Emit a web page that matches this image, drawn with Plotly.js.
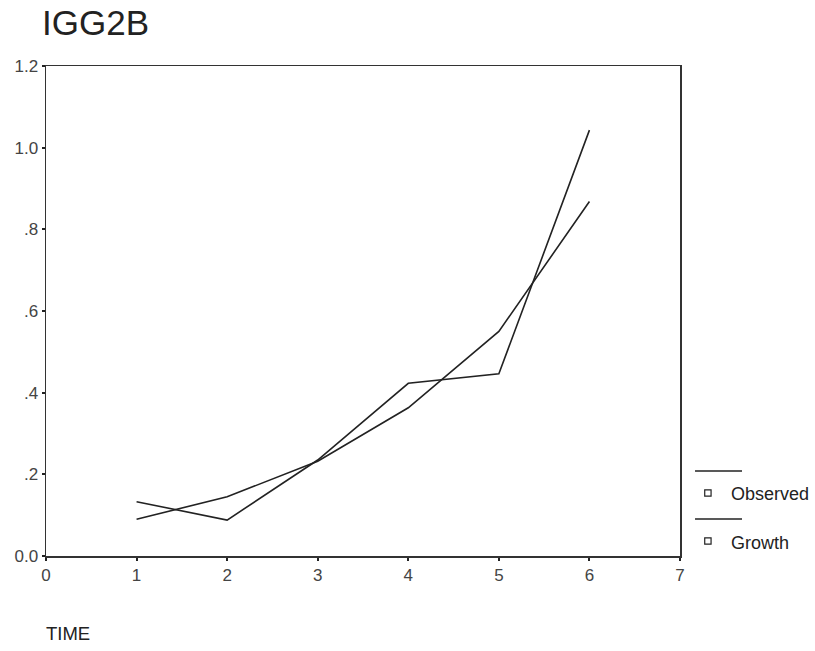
<!DOCTYPE html>
<html>
<head>
<meta charset="utf-8">
<script src="https://cdn.plot.ly/plotly-3.0.1.min.js"></script>
<style>html,body{margin:0;padding:0;background:#fff;}#chart{width:815px;height:651px;}</style>
</head>
<body>
<div id="chart"></div>
<script>
const time = [1, 2, 3, 4, 5, 6];
const observed = [0.133, 0.088, 0.235, 0.423, 0.446, 1.043];
const growth = [0.090, 0.145, 0.232, 0.363, 0.550, 0.868];
const yTickVals = [0, 0.2, 0.4, 0.6, 0.8, 1.0, 1.2];
const yTickText = ['0.0', '.2', '.4', '.6', '.8', '1.0', '1.2'];
const xTickVals = [0, 1, 2, 3, 4, 5, 6, 7];
const seriesNames = ['Observed', 'Growth'];

const ink = '#222';
const fam = 'Liberation Sans, Arial, sans-serif';
const traces = [
  {x: time, y: observed, name: seriesNames[0], mode: 'lines', line: {color: ink, width: 1.6}},
  {x: time, y: growth, name: seriesNames[1], mode: 'lines', line: {color: ink, width: 1.6}}
];

const axisFont = {family: fam, size: 17, color: '#444'};
const layout = {
  width: 815, height: 651,
  margin: {l: 46, r: 135, t: 66, b: 95},
  paper_bgcolor: '#fff', plot_bgcolor: '#fff',
  showlegend: false,
  title: {text: 'IGG2B', x: 42/815, xanchor: 'left', xref: 'container', y: 1 - 23/651, yanchor: 'middle', yref: 'container',
          font: {family: fam, size: 35, color: ink}},
  xaxis: {range: [0, 7], tickvals: xTickVals, ticks: 'outside', ticklen: 3, tickwidth: 2, tickcolor: ink,
          showline: true, linecolor: '#333', linewidth: 1.5, mirror: true, showgrid: false, zeroline: false,
          tickfont: axisFont, fixedrange: true},
  yaxis: {range: [0, 1.2], tickvals: yTickVals, ticktext: yTickText, ticks: 'outside', ticklen: 3, tickwidth: 2, tickcolor: ink,
          showline: true, linecolor: '#333', linewidth: 1.5, mirror: true, showgrid: false, zeroline: false,
          tickfont: axisFont, fixedrange: true},
  annotations: [
    {text: 'TIME', xref: 'paper', yref: 'paper', x: -0.003, y: -0.159, xanchor: 'left', yanchor: 'middle', showarrow: false,
     font: {family: fam, size: 18.5, color: ink}},
    {text: seriesNames[0], xref: 'paper', yref: 'paper', x: 1.077, y: 0.1265, xanchor: 'left', yanchor: 'middle', showarrow: false,
     font: {family: fam, size: 18, color: ink}},
    {text: seriesNames[1], xref: 'paper', yref: 'paper', x: 1.077, y: 0.0265, xanchor: 'left', yanchor: 'middle', showarrow: false,
     font: {family: fam, size: 18, color: ink}}
  ],
  shapes: [
    {type: 'line', xref: 'paper', yref: 'paper', x0: 1.0237, x1: 1.0978, y0: 0.1735, y1: 0.1735, line: {color: ink, width: 1.5}},
    {type: 'line', xref: 'paper', yref: 'paper', x0: 1.0237, x1: 1.0978, y0: 0.0755, y1: 0.0755, line: {color: ink, width: 1.5}},
    {type: 'rect', xref: 'paper', yref: 'paper', x0: 1.044 - 0.005, x1: 1.044 + 0.005, y0: 0.1286 - 0.0065, y1: 0.1286 + 0.0065, line: {color: ink, width: 1.2}},
    {type: 'rect', xref: 'paper', yref: 'paper', x0: 1.044 - 0.005, x1: 1.044 + 0.005, y0: 0.0306 - 0.0065, y1: 0.0306 + 0.0065, line: {color: ink, width: 1.2}}
  ]
};
Plotly.newPlot('chart', traces, layout, {displayModeBar: false, staticPlot: true});
</script>
</body>
</html>
